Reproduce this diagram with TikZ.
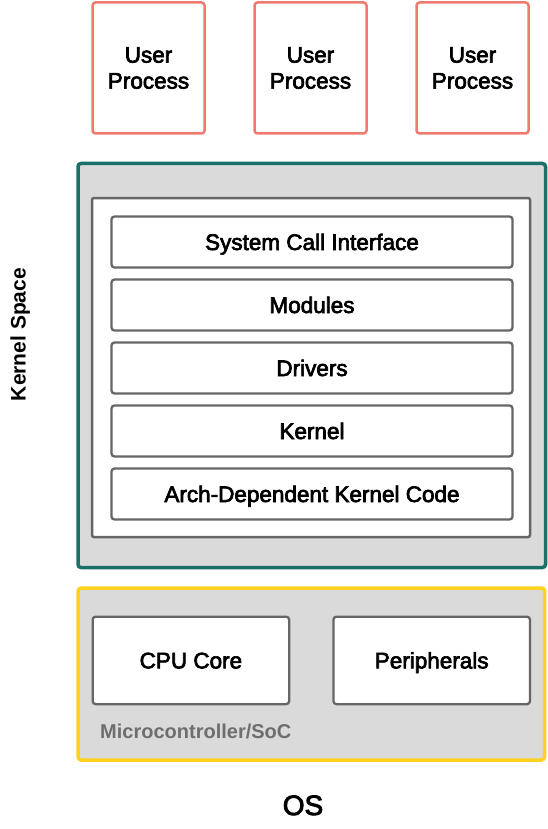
\documentclass[tikz,border=0pt]{standalone}
\usepackage{fontspec}
\setmainfont{Liberation Sans}
\newfontfamily\medfont[FakeBold=3]{Liberation Sans}
\definecolor{salmon}{HTML}{EE7B6E}
\definecolor{tealb}{HTML}{1B7167}
\definecolor{yellowb}{HTML}{FFD21F}
\definecolor{grayfill}{HTML}{DADADA}
\definecolor{boxline}{HTML}{666666}
\definecolor{labelgray}{HTML}{6E6E6E}
\tikzset{
  userbox/.style={draw=salmon, line width=2.5pt, rounded corners=3pt, fill=white,
    minimum width=112pt, minimum height=131pt, inner sep=0pt, align=center,
    font=\medfont\fontsize{22.5}{26}\selectfont},
  layerbox/.style={draw=boxline, line width=2.3pt, rounded corners=3pt, fill=white,
    minimum width=401pt, minimum height=51pt, inner sep=0pt,
    text height=16pt, text depth=0pt,
    font=\medfont\fontsize{22.5}{26}\selectfont},
  hwbox/.style={draw=boxline, line width=2.3pt, rounded corners=3pt, fill=white,
    minimum width=196.5pt, minimum height=87.5pt, inner sep=0pt,
    text height=16pt, text depth=0pt,
    font=\medfont\fontsize{22.5}{26}\selectfont},
}
\begin{document}
\begin{tikzpicture}[x=1pt,y=-1pt]
\useasboundingbox (0,0) rectangle (548,829);
% user processes
\node[userbox] (u1) at (148.5,68) {User\\Process};
\node[userbox] (u2) at (310.5,68) {User\\Process};
\node[userbox] (u3) at (472.5,68) {User\\Process};
% kernel space
\draw[draw=tealb, fill=grayfill, line width=3.5pt, rounded corners=3pt] (78,163.5) rectangle (545.5,567.5);
\draw[draw=boxline, fill=white, line width=2.5pt, rounded corners=2pt] (92,198) rectangle (530,537);
\node[layerbox] (sci) at (312,242) {System Call Interface};
\node[layerbox] (mod) at (312,305) {Modules};
\node[layerbox] (drv) at (312,368) {Drivers};
\node[layerbox] (ker) at (312,431) {Kernel};
\node[layerbox] (arch) at (312,494) {Arch-Dependent Kernel Code};
\node[rotate=90, anchor=base, inner sep=0pt, font=\fontsize{21}{25}\selectfont\bfseries] (ks) at (25.5,334.5) {Kernel Space};
% microcontroller
\draw[draw=yellowb, fill=grayfill, line width=3.5pt, rounded corners=3pt] (78.2,588) rectangle (544.5,760);
\node[hwbox] (cpu) at (190.9,660.4) {CPU Core};
\node[hwbox] (per) at (431.7,660.4) {Peripherals};
\node[anchor=base west, inner sep=0pt, text=labelgray, font=\fontsize{20}{24}\selectfont\bfseries] (soc) at (100,738) {Microcontroller/SoC};
% OS
\node[anchor=base, inner sep=0pt, font=\medfont\fontsize{28}{32}\selectfont] (os) at (303,815) {OS};
\end{tikzpicture}
\end{document}
